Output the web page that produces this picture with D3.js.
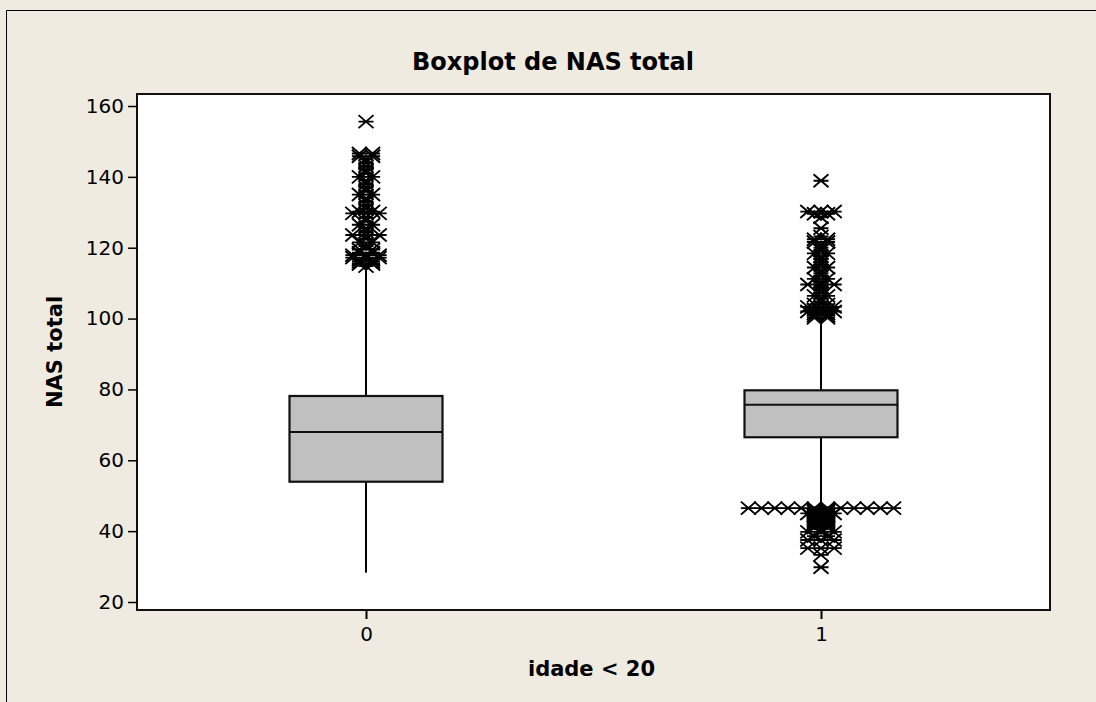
<!DOCTYPE html>
<html>
<head>
<meta charset="utf-8">
<script src="https://cdn.jsdelivr.net/npm/d3@7"></script>
<style>
  html, body { margin: 0; padding: 0; background: #efebe1; overflow: hidden; }
  svg { display: block; }
</style>
</head>
<body>
<svg id="chart" width="1096" height="702"></svg>
<script>
// ---------- data ----------
const categories = ["0", "1"];
const groupValues = [0, 1];
const q1Values = [53.95, 66.5];
const medianValues = [67.95, 75.7];
const q3Values = [78.15, 79.75];
const whiskerLow = [28.3, 47.2];
const whiskerHigh = [114.0, 99.4];

// outliers: value and number of symbols drawn side by side at that value
const outliers0 = [155.6, 146.6, 145.8, 145, 144, 143, 142, 141, 140, 139, 138, 137, 136, 135, 134, 133, 132, 131, 130.2, 129.7, 128.5, 127.5, 126.5, 125.5, 124.5, 123.6, 122.5, 121.5, 120.5, 119.5, 118.6, 117.9, 117.2, 116.6, 116, 115.4, 114.8];
const counts0   = [1,     2,     2,     1,   1,   1,   1,   1,   2,   1,   1,   1,   1,   2,   1,   1,   1,   1,   2,     3,     1,     1,     2,     1,     1,     3,     1,     2,     1,     2,     2,     3,     3,     2,     2,   2,     1];
const outliers1 = [138.9, 130.2, 129.6, 128.6, 125.5, 123.2, 122.4, 121.6, 120.8, 120, 119.2, 118.4, 117.6, 116.8, 116, 115.2, 114.4, 113.6, 112.8, 112, 111.2, 110.4, 109.6, 108.8, 108, 107.2, 106.4, 105.6, 104.8, 104, 103.3, 102.6, 102, 101.4, 100.8, 100.2];
const counts1   = [1,     3,     2,     1,     1,     1,     2,     2,     1,     1,   1,     2,     1,     1,     1,   1,     2,     1,     1,     1,   2,     1,     3,     1,     1,     1,     2,     1,     1,     2,   3,     2,     3,   2,     2,     2];
const outliers1Low = [46.5, 46.0, 45.5, 45.0, 44.5, 44.0, 43.5, 43.0, 42.5, 42.0, 41.5, 41.0, 40.5, 39.8, 38.6, 37.5, 35.2, 33.3, 29.8];
const counts1Low   = [12,   2,    2,    3,    2,    2,    2,    2,    2,    2,    2,    2,    1,    3,    2,    3,    3,    1,    1];

const yTicks = [20, 40, 60, 80, 100, 120, 140, 160];
const titleText = "Boxplot de NAS total";
const xLabelText = "idade < 20";
const yLabelText = "NAS total";

// ---------- layout ----------
const svg = d3.select("#chart");
const plot = { left: 137, right: 1050, top: 94, bottom: 610 };

const x = d3.scaleLinear().domain([-0.5033, 1.5033]).range([plot.left, plot.right]);
const y = d3.scaleLinear().domain([17.74, 163.39]).range([plot.bottom, plot.top]);

const font = "'DejaVu Sans', Verdana, sans-serif";
const boxHalf = 76.5;
const stackStep = 13.2;

// outer figure border (right/bottom edges lie outside the picture)
svg.append("path")
  .attr("d", "M6.5,720 L6.5,10.5 L1120,10.5")
  .attr("fill", "none").attr("stroke", "#000").attr("stroke-width", 1);

// plot area
svg.append("rect")
  .attr("x", plot.left).attr("y", plot.top)
  .attr("width", plot.right - plot.left).attr("height", plot.bottom - plot.top)
  .attr("fill", "#ffffff");

// title
svg.append("text")
  .attr("x", 553).attr("y", 70)
  .attr("text-anchor", "middle")
  .attr("font-family", font).attr("font-weight", "bold").attr("font-size", 24)
  .attr("fill", "#000")
  .text(titleText);

// boxes
const boxes = groupValues.map((g, i) => ({
  g, q1: q1Values[i], med: medianValues[i], q3: q3Values[i], lo: whiskerLow[i], hi: whiskerHigh[i]
}));

const bg = svg.append("g");
bg.selectAll("line.wl").data(boxes).enter().append("line")
  .attr("x1", d => x(d.g)).attr("x2", d => x(d.g))
  .attr("y1", d => y(d.q1)).attr("y2", d => y(d.lo))
  .attr("stroke", "#000").attr("stroke-width", 2);
bg.selectAll("line.wh").data(boxes).enter().append("line")
  .attr("x1", d => x(d.g)).attr("x2", d => x(d.g))
  .attr("y1", d => y(d.q3)).attr("y2", d => y(d.hi))
  .attr("stroke", "#000").attr("stroke-width", 2);
bg.selectAll("rect.box").data(boxes).enter().append("rect")
  .attr("x", d => x(d.g) - boxHalf).attr("width", boxHalf * 2)
  .attr("y", d => y(d.q3)).attr("height", d => y(d.q1) - y(d.q3))
  .attr("fill", "#c0c0c0").attr("stroke", "#111").attr("stroke-width", 2.2);
bg.selectAll("line.med").data(boxes).enter().append("line")
  .attr("x1", d => x(d.g) - boxHalf).attr("x2", d => x(d.g) + boxHalf)
  .attr("y1", d => y(d.med)).attr("y2", d => y(d.med))
  .attr("stroke", "#111").attr("stroke-width", 2);

// asterisk symbol (X with horizontal bar)
const asterisk = {
  draw(ctx, size) {
    const w = 7.5, h = 6.5;
    ctx.moveTo(-w, -h); ctx.lineTo(w, h);
    ctx.moveTo(-w, h); ctx.lineTo(w, -h);
    ctx.moveTo(-w, 0); ctx.lineTo(w, 0);
  }
};
const sym = d3.symbol().type(asterisk).size(100);

function expand(group, values, counts) {
  const pts = [];
  values.forEach((v, i) => {
    const n = counts[i];
    for (let k = 0; k < n; k++) {
      pts.push({ g: group, v, off: (k - (n - 1) / 2) * stackStep });
    }
  });
  return pts;
}
const points = [].concat(
  expand(0, outliers0, counts0),
  expand(1, outliers1, counts1),
  expand(1, outliers1Low, counts1Low)
);
svg.append("g").selectAll("path").data(points).enter().append("path")
  .attr("d", sym)
  .attr("transform", d => `translate(${x(d.g) + d.off},${y(d.v)})`)
  .attr("fill", "none").attr("stroke", "#000").attr("stroke-width", 1.9);

// frame
svg.append("rect")
  .attr("x", plot.left).attr("y", plot.top)
  .attr("width", plot.right - plot.left).attr("height", plot.bottom - plot.top)
  .attr("fill", "none").attr("stroke", "#111").attr("stroke-width", 2);

// axes
const yAxis = d3.axisLeft(y).tickValues(yTicks).tickSize(9).tickPadding(4).tickFormat(d3.format("d"));
const gy = svg.append("g").attr("transform", `translate(${plot.left},0)`).call(yAxis);
gy.select(".domain").remove();
gy.selectAll(".tick line").attr("stroke", "#000").attr("stroke-width", 1.5);
gy.selectAll(".tick text").attr("font-family", font).attr("font-size", 20).attr("fill", "#000");

const xAxis = d3.axisBottom(x).tickValues(groupValues).tickSize(9).tickPadding(8)
  .tickFormat((d, i) => categories[i]);
const gx = svg.append("g").attr("transform", `translate(0,${plot.bottom})`).call(xAxis);
gx.select(".domain").remove();
gx.selectAll(".tick line").attr("stroke", "#000").attr("stroke-width", 2);
gx.selectAll(".tick text").attr("font-family", font).attr("font-size", 20).attr("fill", "#000");

// axis labels
svg.append("text")
  .attr("x", (plot.left + plot.right) / 2 - 2).attr("y", 676)
  .attr("text-anchor", "middle")
  .attr("font-family", font).attr("font-weight", "bold").attr("font-size", 21)
  .attr("xml:space", "preserve")
  .text(xLabelText);

svg.append("text")
  .attr("transform", `translate(62,${(plot.top + plot.bottom) / 2}) rotate(-90)`)
  .attr("text-anchor", "middle")
  .attr("font-family", font).attr("font-weight", "bold").attr("font-size", 21)
  .text(yLabelText);
</script>
</body>
</html>
